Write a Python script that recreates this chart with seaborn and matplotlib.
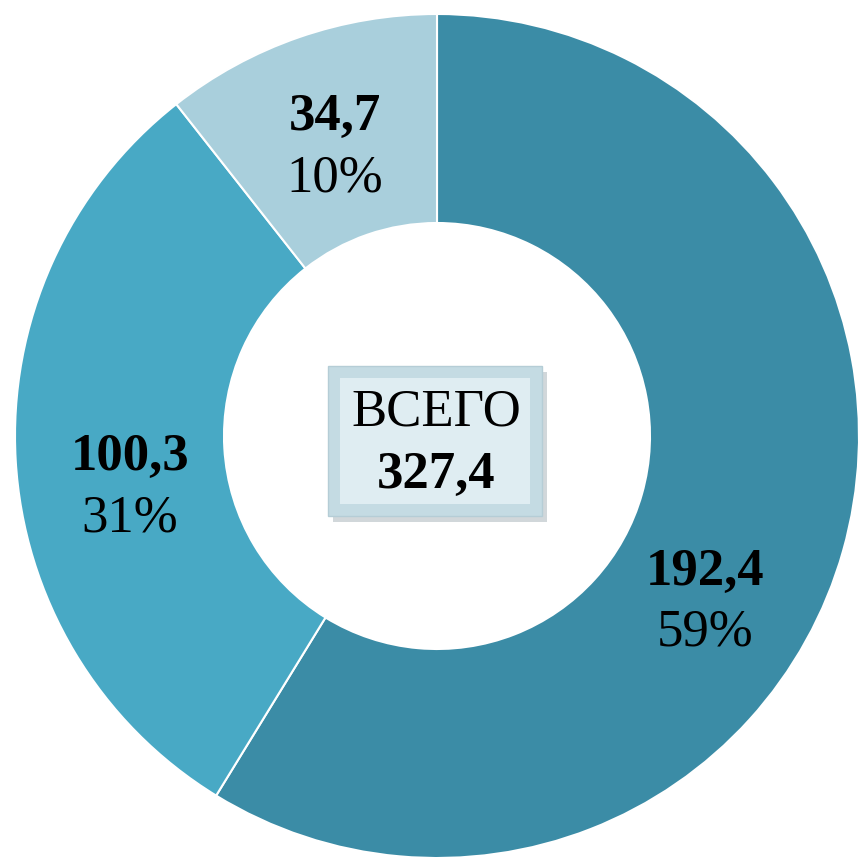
import matplotlib
matplotlib.use("Agg")
import matplotlib.pyplot as plt
from matplotlib.patches import Rectangle
import seaborn as sns

# данные
values = [192.4, 100.3, 34.7]
value_labels = ["192,4", "100,3", "34,7"]
pct_labels = ["59%", "31%", "10%"]
colors = ["#3b8ca6", "#48a9c5", "#a9cfdc"]
total_label = "327,4"

sns.set_theme(style="white")
plt.rcParams["font.family"] = ["Liberation Serif", "DejaVu Serif"]

fig = plt.figure(figsize=(8.59, 8.65), dpi=100)
ax = fig.add_axes([0, 0, 1, 1])

R = 422
r_in = 213
ax.pie(values, radius=R, startangle=90, counterclock=False, colors=colors,
       wedgeprops=dict(width=R - r_in, edgecolor="white", linewidth=1.5))

# подписи сегментов
label_pos = [(268, -164), (-307, -49), (-102, 291)]
for (x, y), v, p in zip(label_pos, value_labels, pct_labels):
    ax.text(x, y + 28, v, ha="center", va="center", fontsize=38, fontweight="bold", color="black")
    ax.text(x, y - 33, p, ha="center", va="center", fontsize=38, color="black")

# центральная плашка
bx, by, bw, bh = -109, -80, 214, 150
ax.add_patch(Rectangle((bx + 5, by - 6), bw, bh, facecolor="#9aa7ad", alpha=0.45, edgecolor="none", zorder=3))
ax.add_patch(Rectangle((bx, by), bw, bh, facecolor="#c4dbe3", edgecolor="#b5cdd6", linewidth=1, zorder=4))
ax.add_patch(Rectangle((bx + 12, by + 12), bw - 24, bh - 24, facecolor="#dfedf2", edgecolor="none", zorder=5))
ax.text(-1, 24, "ВСЕГО", ha="center", va="center", fontsize=38, color="black", zorder=6)
ax.text(-1, -39, total_label, ha="center", va="center", fontsize=38, fontweight="bold", color="black", zorder=6)

ax.set_xlim(-437, 422)
ax.set_ylim(-429, 436)
ax.set_aspect("equal")
ax.axis("off")

fig.savefig("out.png", dpi=100, facecolor="white")
